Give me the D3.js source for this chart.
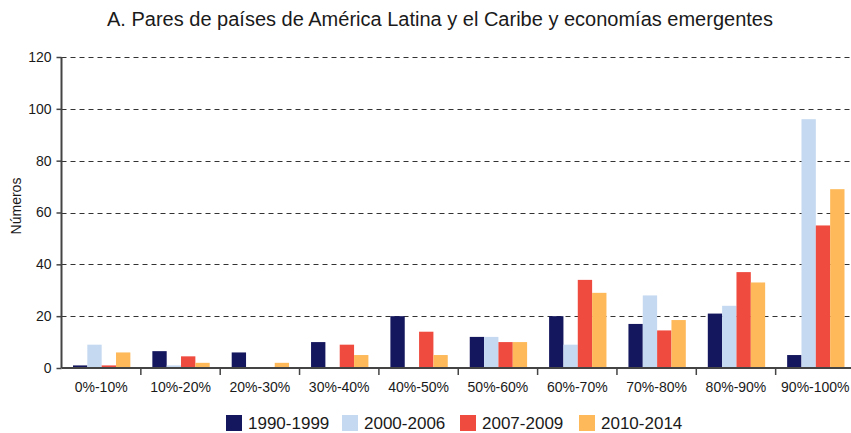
<!DOCTYPE html>
<html>
<head>
<meta charset="utf-8">
<script src="https://cdn.jsdelivr.net/npm/d3@7"></script>
<style>
  body { margin: 0; background: #fff; }
  svg { display: block; font-family: "Liberation Sans", Arial, sans-serif; }
</style>
</head>
<body>
<svg id="chart" width="851" height="433"></svg>
<script>
// Distribution of country pairs by share range, per period
const categories = ["0%-10%", "10%-20%", "20%-30%", "30%-40%", "40%-50%", "50%-60%", "60%-70%", "70%-80%", "80%-90%", "90%-100%"];
const periods = ["1990-1999", "2000-2006", "2007-2009", "2010-2014"];
const s1990_1999 = [1, 6.5, 6, 10, 20, 12, 20, 17, 21, 5];
const s2000_2006 = [9, 1, 0, 0, 0, 12, 9, 28, 24, 96];
const s2007_2009 = [1, 4.5, 0, 9, 14, 10, 34, 14.5, 37, 55];
const s2010_2014 = [6, 2, 2, 5, 5, 10, 29, 18.5, 33, 69];
const yTicks = [0, 20, 40, 60, 80, 100, 120];
const colors = ["#15175e", "#c5d9f1", "#ef4b3f", "#fdb95a"];

const seriesValues = [s1990_1999, s2000_2006, s2007_2009, s2010_2014];
const rows = categories.map((c, i) => {
  const r = { cat: c };
  periods.forEach((p, j) => { r[p] = seriesValues[j][i]; });
  return r;
});

const svg = d3.select("#chart");
const W = 851;
const x0 = 61.5, x1 = 855, yTop = 57, yBase = 368;

const x = d3.scaleBand().domain(categories).range([x0, x1]).paddingInner(0).paddingOuter(0);
const xInner = d3.scaleBand().domain(periods).range([11.5, x.bandwidth() - 10.5]).padding(0);
const y = d3.scaleLinear().domain([0, 120]).range([yBase, yTop]);

// Title
svg.append("text")
  .attr("x", 440).attr("y", 26)
  .attr("text-anchor", "middle")
  .attr("font-size", 20)
  .attr("fill", "#1a1a1a")
  .text("A. Pares de países de América Latina y el Caribe y economías emergentes");

// Dashed gridlines
svg.append("g")
  .selectAll("line")
  .data(yTicks.filter(d => d > 0))
  .join("line")
  .attr("x1", x0).attr("x2", W)
  .attr("y1", d => Math.round(y(d)) + 0.5).attr("y2", d => Math.round(y(d)) + 0.5)
  .attr("stroke", "#333")
  .attr("stroke-width", 1)
  .attr("stroke-dasharray", "5,4");

// Bars
const groups = svg.append("g")
  .selectAll("g")
  .data(rows)
  .join("g")
  .attr("transform", d => `translate(${x(d.cat)},0)`);

groups.selectAll("rect")
  .data(d => periods.map((p, j) => ({ p, j, v: d[p] })))
  .join("rect")
  .attr("x", d => xInner(d.p))
  .attr("width", xInner.bandwidth())
  .attr("y", d => y(d.v))
  .attr("height", d => yBase - y(d.v))
  .attr("fill", d => colors[d.j]);

// Y axis
const yAxis = d3.axisLeft(y).tickValues(yTicks).tickSize(5).tickPadding(5);
const gy = svg.append("g").attr("transform", `translate(${x0},0)`).call(yAxis);
gy.select(".domain").attr("stroke", "#444").attr("stroke-width", 2)
  .attr("d", `M0,${yTop}V${yBase}`);
gy.selectAll(".tick line").attr("stroke", "#444").attr("stroke-width", 1.5);
gy.selectAll(".tick text").attr("font-size", 14).attr("fill", "#1a1a1a")
  .attr("font-family", "'Liberation Sans', Arial, sans-serif");

// X axis with ticks at category boundaries
const gx = svg.append("g");
gx.append("line")
  .attr("x1", x0).attr("x2", W)
  .attr("y1", yBase).attr("y2", yBase)
  .attr("stroke", "#444").attr("stroke-width", 2);
gx.selectAll("line.tk")
  .data(categories)
  .join("line")
  .attr("class", "tk")
  .attr("x1", d => x(d) + x.bandwidth())
  .attr("x2", d => x(d) + x.bandwidth())
  .attr("y1", yBase).attr("y2", yBase + 7)
  .attr("stroke", "#444").attr("stroke-width", 1.5);
gx.selectAll("text")
  .data(categories)
  .join("text")
  .attr("x", d => x(d) + x.bandwidth() / 2)
  .attr("y", yBase + 24)
  .attr("text-anchor", "middle")
  .attr("font-size", 14)
  .attr("fill", "#1a1a1a")
  .text(d => d);

// Y axis title
svg.append("text")
  .attr("transform", "translate(21,206) rotate(-90)")
  .attr("text-anchor", "middle")
  .attr("font-size", 14)
  .attr("fill", "#1a1a1a")
  .text("Números");

// Legend
const legendX = [226, 342, 460, 579];
const lg = svg.append("g").selectAll("g")
  .data(periods)
  .join("g")
  .attr("transform", (d, i) => `translate(${legendX[i]},415)`);
lg.append("rect").attr("width", 16).attr("height", 16).attr("fill", (d, i) => colors[i]);
lg.append("text")
  .attr("x", 22).attr("y", 14)
  .attr("font-size", 17)
  .attr("fill", "#1a1a1a")
  .text(d => d);
</script>
</body>
</html>
